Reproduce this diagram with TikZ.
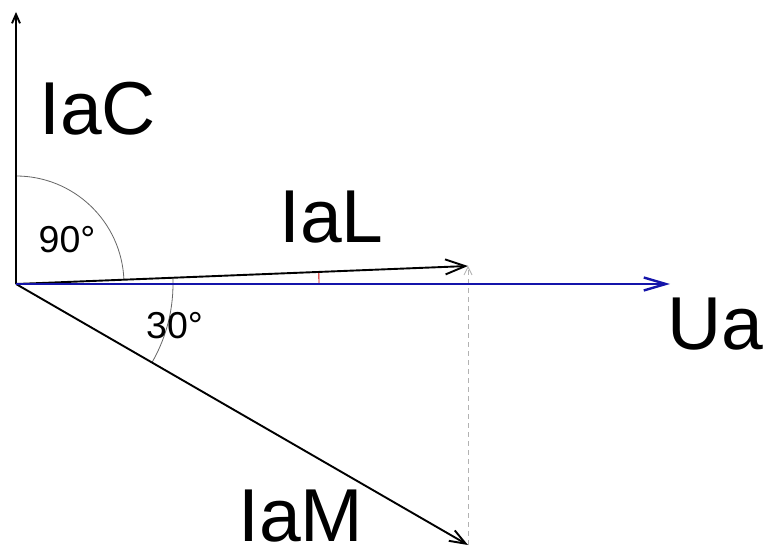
\documentclass[tikz,border=0pt]{standalone}
\usepackage{fontspec}
\setmainfont{Liberation Sans}
\usetikzlibrary{arrows.meta}
\definecolor{vblue}{RGB}{20,20,170}
\begin{document}
\begin{tikzpicture}[x=1pt,y=1pt,
  vec/.style={line width=1.9pt},
  big/.style={font=\fontsize{75}{75}\selectfont, inner sep=0pt, anchor=base west},
  small/.style={font=\fontsize{37.5}{37.5}\selectfont, inner sep=0pt, anchor=base west},
  anglearc/.style={gray!80!black, line width=0.8pt}]
\useasboundingbox (0,0) rectangle (769,552);
\fill[white] (0,0) rectangle (769,552);
\coordinate (O) at (16,268);
\coordinate (C) at (16,540);
\coordinate (L) at (468,286);
\coordinate (U) at (670,268);
\coordinate (M) at (468,7);
% angle arcs
\draw[anglearc] (O) ++(2.3:108pt) arc[start angle=2.3, end angle=90, radius=108pt];
\draw[anglearc] (O) ++(2.3:157pt) arc[start angle=2.3, end angle=-30, radius=157pt];
\draw[red!80!black, line width=0.9pt] (O) ++(0:303pt) arc[start angle=0, end angle=2.3, radius=303pt];
% projection
\draw[gray!60, line width=0.8pt, dash pattern=on 5pt off 4pt, -{Straight Barb[length=8pt,width=8pt]}] (M) -- (L);
% vectors
\draw[vec, -{Straight Barb[length=9pt,width=8pt]}] (O) -- (C);
\draw[vec, -{Straight Barb[length=20pt,width=15pt]}] (O) -- (L);
\draw[vec, -{Straight Barb[length=16pt,width=12pt]}] (O) -- (M);
\draw[vblue, line width=2.4pt, -{Straight Barb[length=22pt,width=13pt]}] (O) -- (U);
% labels
\node[big] (tC) at (39,417) {IaC};
\node[big] (tL) at (279,309) {IaL};
\node[big] (tM) at (238,10) {IaM};
\node[big] (tU) at (667,202) {Ua};
\node[small] (t90) at (38.5,299) {90°};
\node[small] (t30) at (146,213) {30°};
\end{tikzpicture}
\end{document}
